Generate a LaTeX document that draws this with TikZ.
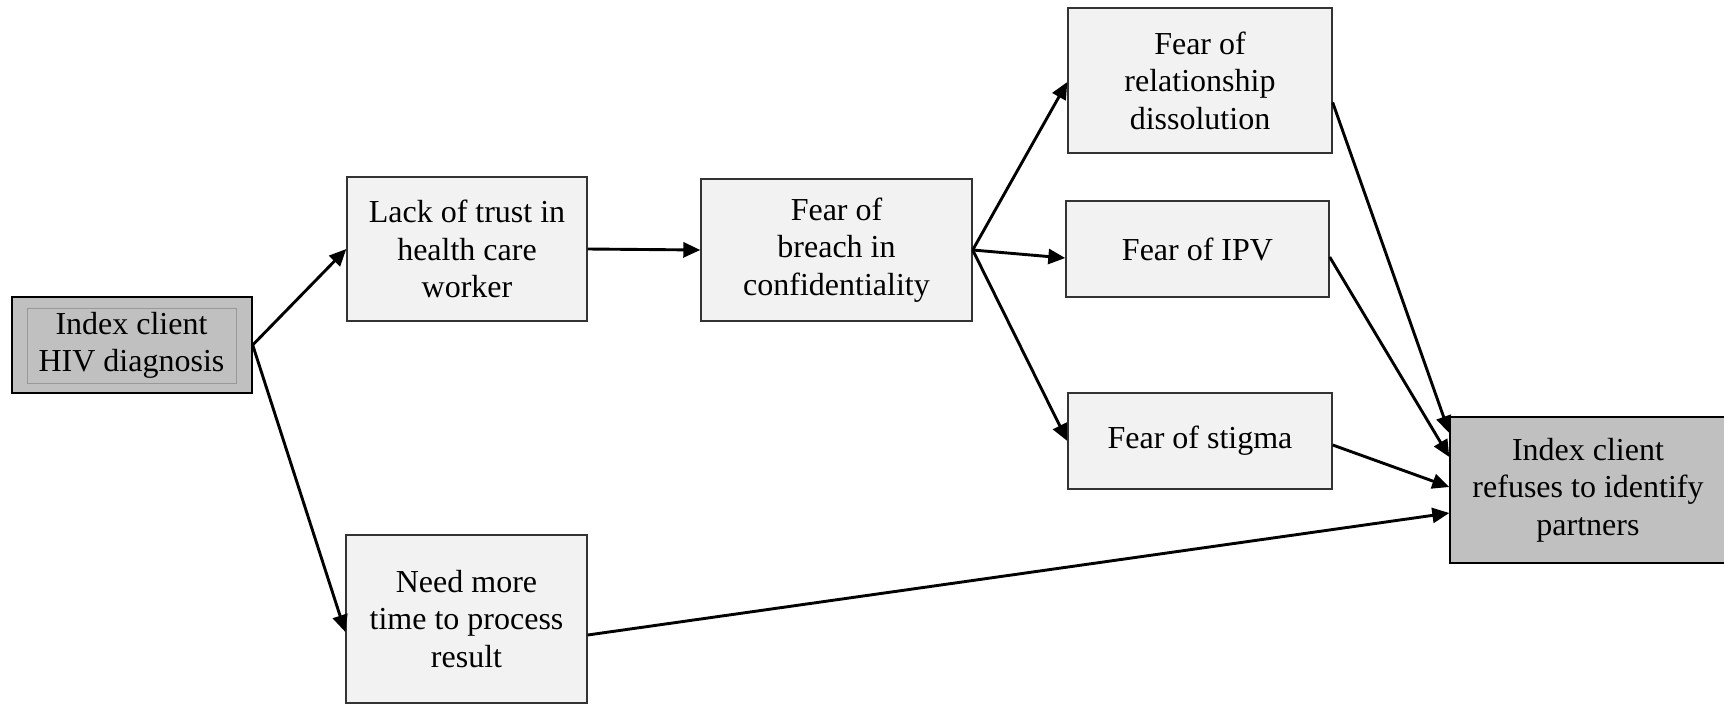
\documentclass[tikz,border=0pt]{standalone}
\usepackage{fontspec}
\setmainfont{Liberation Serif}
\usetikzlibrary{arrows.meta}
\definecolor{boxfill}{HTML}{F2F2F2}
\definecolor{darkfill}{HTML}{C0C0C0}
\definecolor{boxline}{HTML}{333333}
\tikzset{
  box/.style={draw=boxline, line width=1.4pt, fill=boxfill, align=center, inner sep=0pt,
    font=\fontsize{32}{37.5}\selectfont},
  darkbox/.style={box, fill=darkfill, draw=black},
  arr/.style={line width=2.9pt, -{Triangle[length=17pt,width=15pt]}},
}
\begin{document}
\begin{tikzpicture}[x=1pt,y=-1pt]
\useasboundingbox (0,0) rectangle (1724,705);
\node[darkbox, minimum width=240pt, minimum height=96pt] (idx) at (132,345) {};
\node[draw=black!40, line width=1pt, minimum width=209pt, minimum height=75pt, inner sep=0pt,
  align=center, font=\fontsize{32}{37.5}\selectfont] (idxin) at (131.5,345.5) {Index client\\HIV diagnosis};
\node[box, minimum width=240pt, minimum height=144pt] (lack) at (467,249) {Lack of trust in\\health care\\worker};
\node[box, minimum width=241pt, minimum height=168pt] (need) at (466.5,619) {Need more\\time to process\\result};
\node[box, minimum width=271pt, minimum height=142pt] (breach) at (836.5,250) {Fear of\\breach in\\confidentiality};
\node[box, minimum width=264pt, minimum height=145pt] (rel) at (1200,80.5) {Fear of\\relationship\\dissolution};
\node[box, minimum width=263pt, minimum height=96pt] (ipv) at (1197.5,249) {Fear of IPV};
\node[box, minimum width=264pt, minimum height=96pt] (stig) at (1200,441) {Fear of stigma};
\node[darkbox, minimum width=276pt, minimum height=146pt] (ref) at (1588,490) {Index client\\refuses to identify\\partners};

\draw[arr] (idx.east) -- (lack.west);
\draw[arr] (idx.east) -- ([yshift=-13pt]need.west);
\draw[arr] (lack.east) -- (breach.west);
\draw[arr] (breach.east) -- ([yshift=-1.5pt]rel.west);
\draw[arr] (breach.east) -- ([yshift=-9pt]ipv.west);
\draw[arr] (breach.east) -- (stig.west);
\draw[arr] ([yshift=-22pt]rel.east) -- ([yshift=57pt]ref.west);
\draw[arr] ([yshift=-8pt]ipv.east) -- ([yshift=33pt]ref.west);
\draw[arr] ([yshift=-4pt]stig.east) -- ([yshift=3pt]ref.west);
\draw[arr] ([yshift=-16pt]need.east) -- ([yshift=-23pt]ref.west);
\end{tikzpicture}
\end{document}
